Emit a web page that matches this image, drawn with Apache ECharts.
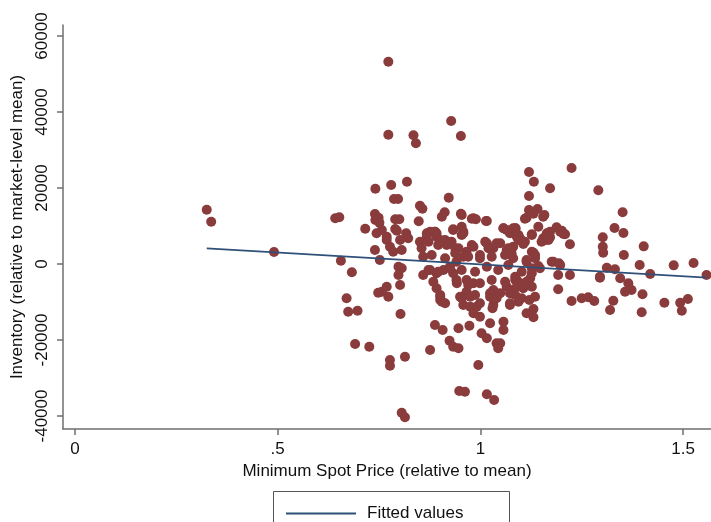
<!DOCTYPE html>
<html>
<head>
<meta charset="utf-8">
<script src="https://cdn.jsdelivr.net/npm/echarts@6/dist/echarts.min.js"></script>
<style>
  html, body { margin: 0; padding: 0; background: #fff; }
  #main { width: 711px; height: 522px; }
</style>
</head>
<body>
<div id="main"></div>
<script>
// scatter points
const spotPrice = [
  0.773, 0.773, 0.835, 0.841, 0.928, 0.952, 0.741, 0.780, 0.819, 0.787,
  0.797, 0.851, 0.857, 0.325, 0.336, 0.642, 0.652, 0.740, 0.749, 0.741,
  0.751, 0.790, 0.800, 0.848, 0.716, 0.790, 0.794, 0.817, 0.744, 0.769,
  0.868, 0.888, 1.225, 1.120, 1.132, 1.172, 1.291, 0.922, 1.120, 0.912,
  0.952, 0.979, 0.989, 1.014, 1.120, 1.141, 1.158, 1.110, 1.131, 1.351,
  1.331, 1.353, 1.302, 1.302, 1.303, 1.403, 1.354, 1.393, 1.477, 1.526,
  1.558, 1.419, 1.312, 1.332, 1.188, 1.201, 1.209, 1.164, 1.160, 1.221,
  1.176, 1.194, 1.057, 1.087, 1.098, 1.106, 1.127, 1.131, 1.135, 0.876,
  0.892, 0.933, 0.954, 0.958, 1.086, 1.295, 1.192, 1.221, 1.295, 1.345,
  1.365, 1.373, 1.357, 1.400, 1.328, 1.320, 1.398, 1.454, 1.493, 1.512,
  1.497, 1.225, 1.250, 1.266, 1.281, 1.192, 1.155, 1.172, 1.205, 1.121,
  1.131, 1.114, 1.131, 1.073, 1.094, 1.057, 1.057, 1.049, 1.114, 1.127,
  1.143, 1.123, 1.098, 1.065, 1.086, 1.106, 1.073, 1.065, 1.081, 1.094,
  1.073, 0.802, 0.822, 0.769, 0.757, 0.740, 0.752, 0.777, 0.785, 0.806,
  0.656, 0.683, 0.798, 0.806, 0.798, 0.802, 0.769, 0.757, 0.773, 0.670,
  0.851, 0.855, 0.859, 0.868, 0.892, 0.901, 0.917, 0.929, 0.938, 0.954,
  0.859, 0.876, 0.892, 0.909, 0.925, 0.941, 0.958, 0.966, 0.983, 0.999,
  1.016, 1.032, 1.049, 1.065, 1.081, 1.090, 1.077, 0.892, 0.901, 0.913,
  0.950, 0.958, 0.991, 0.999, 1.024, 1.032, 1.049, 1.081, 1.090, 1.073,
  1.032, 0.966, 0.983, 0.941, 0.933, 0.674, 0.697, 0.748, 0.803, 0.691,
  0.726, 0.777, 0.777, 0.814, 0.806, 0.814, 0.876, 0.888, 0.907, 0.946,
  0.973, 0.924, 0.933, 0.946, 0.995, 0.948, 0.962, 1.016, 1.034, 0.905,
  0.975, 0.983, 0.999, 1.024, 1.003, 1.016, 1.040, 1.044, 1.032, 1.030,
  0.901, 0.966, 0.975, 0.491,
  0.905, 0.954, 0.983, 1.016, 1.114, 1.155, 0.888, 0.933, 0.958, 1.012,
  1.057, 1.086, 1.127, 1.143, 1.172, 1.197, 0.872, 0.896, 0.913, 0.946,
  0.979, 1.020, 1.040, 1.069, 1.094, 1.110, 1.127, 1.151, 1.168, 0.880,
  0.913, 0.938, 0.970, 0.999, 1.028, 1.061, 1.081, 1.114, 1.135, 1.180,
  1.197, 0.872, 0.896, 0.925, 0.954, 0.987, 1.016, 1.044, 1.069, 1.102,
  1.127, 1.147, 0.884, 0.942, 0.970, 0.999, 1.028, 1.061, 1.090, 1.114,
  1.127, 0.901, 0.954, 0.987, 1.024, 1.040, 1.086, 1.102, 1.135
];
const inventory = [
  53250, 34030, 33870, 31770, 37640, 33690, 19820, 20790, 21670, 17110,
  17110, 15350, 14560, 14300, 11140, 12030, 12290, 13160, 12190, 11580,
  10870, 11760, 11760, 11240, 9300, 9200, 8770, 8080, 8080, 7190,
  7370, 8500, 25270, 24210, 21670, 19920, 19390, 17460, 17900, 13610,
  13240, 11920, 11760, 11320, 14210, 14480, 12900, 11920, 13240, 13610,
  9480, 8160, 7020, 4550, 2970, 4650, 2370, -260, -350, 260,
  -2900, -2630, -970, -1400, 9660, 8770, 7820, 8080, 6320, 5180,
  600, 180, 9400, 9400, 6760, 5260, 7820, 2970, 1500, 8500,
  8080, 9130, 7630, 8500, -3340, -3340, -2900, -2900, -3600, -3760,
  -5080, -6840, -7290, -7980, -9660, -12100, -12710, -10180, -10180, -9210,
  -12290, -9740, -9030, -8770, -9740, -6660, 6760, 7020, 7900, -9480,
  -11840, -12970, -14030, -10790, -9920, -15190, -17370, -20870, 600, -1130,
  -530, -3760, -5080, -5970, -4210, -6400, -7710, 3680, 4550, 7630,
  8080, 6320, 6760, 6320, 8950, 3680, 1050, 4550, 3240, 3680,
  870, -2190, -710, -1130, -2900, -5530, -5970, -7290, -8600, -9030,
  5870, 4130, 1920, 8080, 7190, 6320, 5000, 5870, 4130, 9820,
  -2900, -1580, -2450, -1580, -710, 600, 1920, 3240, 4550, 2370,
  5440, 4130, 5440, 8950, 9400, 7190, 2810, -6400, -9480, -10340,
  -8600, -10790, -11220, -10340, -8600, -6840, -7710, -6840, -4210, -10340,
  -10790, -4210, -5080, -4210, -2450, -12550, -12290, -7550, -13160, -21060,
  -21760, -25270, -26760, -24400, -39140, -40350, -22640, -16060, -17370, -16920,
  -16240, -20190, -21760, -22190, -26580, -33430, -33600, -34290, -35800, -9920,
  -11220, -12970, -13860, -15600, -18240, -19560, -20870, -22190, -9030, -11660,
  -8600, -7290, -8600, 3160,
  12450, 12900, 12030, 11320, 12190, 12450, 8500, 8950, 8080, 5870,
  9400, 9400, 7630, 9820, 8500, 8500, 5870, 5000, 6320, 4130,
  5000, 4130, 5450, 4130, 6320, 5870, 3240, 5870, 6320, 2370,
  1500, 2810, 1920, 1500, 1920, 2370, 1500, 1050, 2370, 600,
  -260, -1580, -2030, -1130, -1580, -2030, -710, -1580, -260, -2030,
  -2450, -1130, -4660, -5080, -5530, -5080, -4210, -4660, -5970, -4660,
  -5970, -8160, -9030, -8160, -7710, -9030, -8160, -9030, -8600
];

// fitted regression line ends
const fitX = [0.325, 1.558];
const fitY = [4130, -3600];

const xTickValues = [0, 0.5, 1, 1.5];
const xTickLabels = ['0', '.5', '1', '1.5'];
const yTickValues = [-40000, -20000, 0, 20000, 40000, 60000];

const points = spotPrice.map((x, i) => [x, inventory[i]]);
const fitted = fitX.map((x, i) => [x, fitY[i]]);

const font = 'Liberation Sans, Arial, Helvetica, sans-serif';
const axisColor = '#6f6f6f';
const lineColor = '#2f5078';

var myChart = echarts.init(document.querySelector('#main'));

var option = {
  animation: false,
  backgroundColor: '#fff',
  textStyle: { fontFamily: font },
  grid: { left: 63, top: 25, right: 0, bottom: 93, containLabel: false },
  xAxis: {
    type: 'value',
    min: -0.0296,
    max: 1.569,
    splitLine: { show: false },
    axisLine: { show: true, onZero: false, lineStyle: { color: axisColor, width: 1.5 } },
    axisTick: { show: true, length: 6, customValues: xTickValues, lineStyle: { color: axisColor, width: 1.5 } },
    axisLabel: {
      customValues: xTickValues,
      margin: 12,
      fontSize: 17,
      color: '#111',
      fontFamily: font,
      formatter: v => xTickLabels[xTickValues.indexOf(v)] || ''
    },
    name: 'Minimum Spot Price (relative to mean)',
    nameLocation: 'middle',
    nameGap: 32,
    nameTextStyle: { fontSize: 17, color: '#111', fontFamily: font }
  },
  yAxis: {
    type: 'value',
    min: -43420,
    max: 62900,
    splitLine: { show: false },
    axisLine: { show: true, onZero: false, lineStyle: { color: axisColor, width: 1.5 } },
    axisTick: { show: true, length: 6, customValues: yTickValues, lineStyle: { color: axisColor, width: 1.5 } },
    axisLabel: {
      customValues: yTickValues,
      rotate: 90,
      margin: 12,
      fontSize: 17,
      color: '#111',
      fontFamily: font,
      formatter: v => String(v)
    },
    name: 'Inventory (relative to market-level mean)',
    nameLocation: 'middle',
    nameGap: 31,
    nameTextStyle: { fontSize: 17, color: '#111', fontFamily: font }
  },
  legend: {
    data: [{ name: 'Fitted values', icon: 'rect' }],
    left: 281,
    top: 500,
    itemWidth: 70,
    itemHeight: 2,
    textStyle: { fontSize: 17, color: '#111', fontFamily: font, padding: [0, 0, 0, 6] }
  },
  graphic: [{
    type: 'rect',
    z: -1,
    shape: { x: 273.5, y: 491.5, width: 236, height: 60 },
    style: { fill: '#fff', stroke: '#555', lineWidth: 1 }
  }],
  series: [
    {
      type: 'scatter',
      name: 'Inventory',
      data: points,
      symbol: 'circle',
      symbolSize: 10,
      itemStyle: { color: '#8a3b3c', opacity: 1 },
      z: 2
    },
    {
      type: 'line',
      name: 'Fitted values',
      data: fitted,
      symbol: 'none',
      lineStyle: { color: lineColor, width: 1.8 },
      itemStyle: { color: lineColor },
      z: 3
    }
  ]
};

myChart.setOption(option);
</script>
</body>
</html>
